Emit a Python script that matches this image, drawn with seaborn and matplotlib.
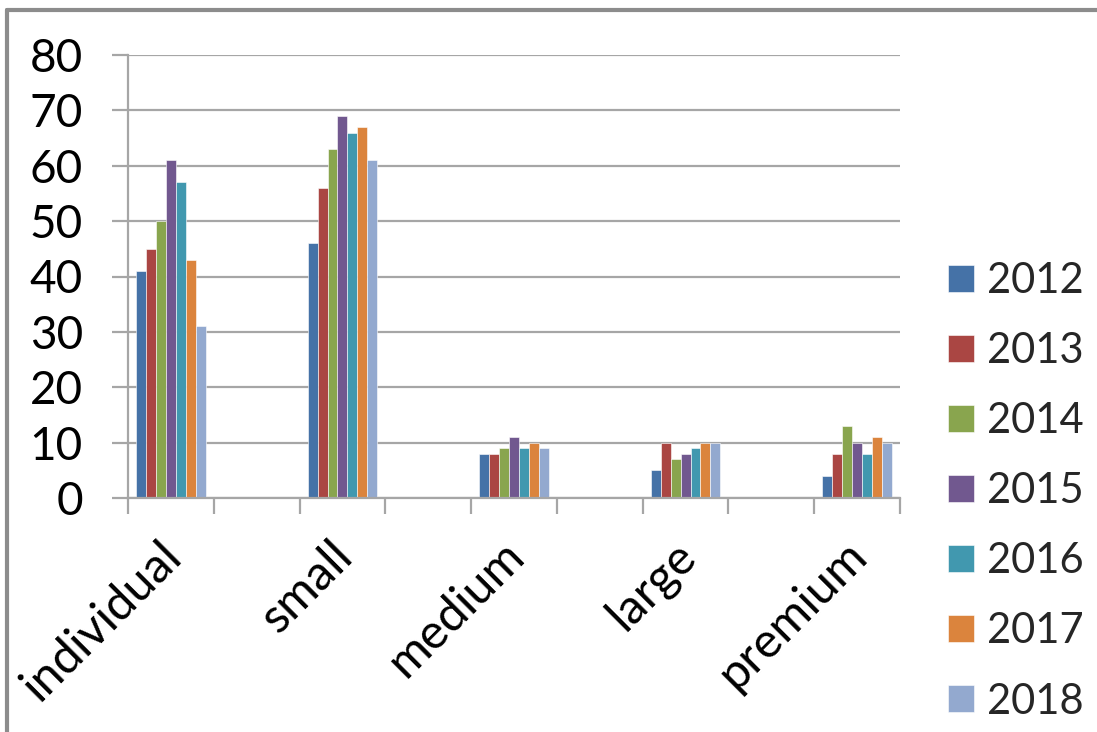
import matplotlib
matplotlib.use("Agg")
import matplotlib.pyplot as plt
import matplotlib.transforms as mtransforms
from matplotlib.lines import Line2D
import seaborn as sns
import pandas as pd

categories = ["individual", "small", "medium", "large", "premium"]
years = ["2012", "2013", "2014", "2015", "2016", "2017", "2018"]
v2012 = [41, 46, 8, 5, 4]
v2013 = [45, 56, 8, 10, 8]
v2014 = [50, 63, 9, 7, 13]
v2015 = [61, 69, 11, 8, 10]
v2016 = [57, 66, 9, 9, 8]
v2017 = [43, 67, 10, 10, 11]
v2018 = [31, 61, 9, 10, 10]
yticks = [0, 10, 20, 30, 40, 50, 60, 70, 80]
colors = ["#4572A7", "#AA4643", "#89A54E", "#71588F", "#4198AF", "#DB843D", "#93A9CF"]

series = [v2012, v2013, v2014, v2015, v2016, v2017, v2018]
rows = []
for y, vals in zip(years, series):
    for c, v in zip(categories, vals):
        rows.append({"category": c, "year": y, "value": v})
df = pd.DataFrame(rows)

# Excel-style layout: an empty slot between each category
order = []
for i, c in enumerate(categories):
    order.append(c)
    if i < len(categories) - 1:
        order.append(" " * (i + 1))

sns.set_theme(style="white")
plt.rcParams["font.family"] = ["Lato", "DejaVu Sans"]

W, H = 1097, 732
fig = plt.figure(figsize=(W / 100, H / 100), dpi=100)
ax = fig.add_axes([128 / W, 1 - 498 / H, (900 - 128) / W, (498 - 55) / H])

sns.barplot(data=df, x="category", y="value", hue="year", order=order,
            hue_order=years, palette=colors, width=0.81, saturation=1,
            edgecolor="white", linewidth=0.4, ax=ax)

grid_c = "#A6A6A6"
ax.set_ylim(0, 80)
ax.set_xlim(-0.5, len(order) - 0.5)
ax.set_yticks(yticks)
ax.set_yticklabels([str(t) for t in yticks])
ax.yaxis.grid(True, color=grid_c, linewidth=1.6)
ax.set_axisbelow(True)
ax.set_xlabel("")
ax.set_ylabel("")

for s in ["top", "right"]:
    ax.spines[s].set_visible(False)
for s in ["left", "bottom"]:
    ax.spines[s].set_color(grid_c)
    ax.spines[s].set_linewidth(1.6)

ax.tick_params(axis="y", length=11.5, width=1.6, color=grid_c, pad=21,
               labelsize=33, labelcolor="black", left=True)

centers = [order.index(c) for c in categories]
ax.set_xticks(centers)
ax.set_xticklabels(categories)
ax.set_xticks([i - 0.5 for i in range(len(order) + 1)], minor=True)
ax.tick_params(axis="x", which="major", length=0, pad=25, labelsize=35,
               labelcolor="black")
ax.tick_params(axis="x", which="minor", length=11.5, width=1.6, color=grid_c,
               bottom=True)
off = mtransforms.ScaledTranslation(-13 / 100, 0, fig.dpi_scale_trans)
for lab in ax.get_xticklabels():
    lab.set_rotation(45)
    lab.set_ha("right")
    lab.set_va("top")
    lab.set_rotation_mode("anchor")
    lab.set_transform(lab.get_transform() + off)

handles, labels = ax.get_legend_handles_labels()
ax.legend_.remove()
fig.legend(handles, labels, loc="upper left",
           bbox_to_anchor=(948 / W, 1 - 262 / H), frameon=False,
           fontsize=30, handlelength=0.62, handleheight=0.62,
           handletextpad=0.32, labelspacing=0.77, borderaxespad=0,
           borderpad=0)

# outer chart border
bc = "#8C8C8C"
fig.add_artist(Line2D([7 / W, 1.0], [1 - 10 / H, 1 - 10 / H],
                      transform=fig.transFigure, color=bc, linewidth=3))
fig.add_artist(Line2D([7 / W, 7 / W], [0, 1 - 10 / H],
                      transform=fig.transFigure, color=bc, linewidth=3))

fig.savefig("out.png", dpi=100)
